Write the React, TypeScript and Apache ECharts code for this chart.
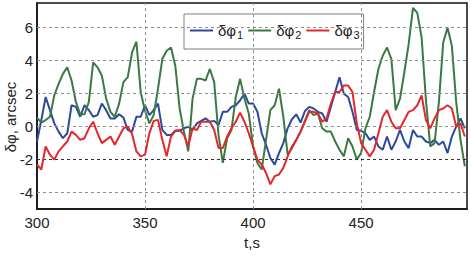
import React, { useEffect, useRef } from "react";
import * as echarts from "echarts";

const times = [
  300, 302, 304, 306, 308, 310, 312, 314, 316, 318,
  320, 322, 324, 326, 328, 330, 332, 334, 336, 338,
  340, 342, 344, 346, 348, 350, 352, 354, 356, 358,
  360, 362, 364, 366, 368, 370, 372, 374, 376, 378,
  380, 382, 384, 386, 388, 390, 392, 394, 396, 398,
  400, 402, 404, 406, 408, 410, 412, 414, 416, 418,
  420, 422, 424, 426, 428, 430, 432, 434, 436, 438,
  440, 442, 444, 446, 448, 450, 452, 454, 456, 458,
  460, 462, 464, 466, 468, 470, 472, 474, 476, 478,
  480, 482, 484, 486, 488, 490, 492, 494, 496, 498,
];

const dphi1 = [
  -0.9, 0.4, 1.8, 1.0, 0.2, -0.3, -0.7, -0.4, 1.3, 1.2,
  0.6, 1.3, 1.0, 0.6, 0.7, 1.4, 1.0, 0.5, 0.5, 0.75,
  0.55, -0.2, -0.3, 0.6, 0.6, 1.3, 0.7, 1.0, 1.4, -0.2,
  -0.5, -0.5, -0.25, -0.25, -0.1, 0.0, -0.2, 0.2, 0.35, 0.5,
  0.3, 0.35, 0.1, 0.9, 0.9, 1.2, 1.3, 1.6, 2.0, 1.4,
  1.4, 0.9, -0.4, -1.1, -1.9, -2.3, -1.6, -1.0, -0.1, 0.45,
  0.75, 0.25, 0.95, 1.2, 1.1, 0.9, 0.8, 0.3, 1.2, 2.1,
  3.0, 2.0, 1.8, 0.9, -0.2, -0.25, -0.4, -0.8, -0.6, -1.2,
  -1.4, -0.6, -1.4, -0.9, -0.2, -0.9, -1.3, -0.2, -0.6, -0.6,
  -0.9, -1.0, -0.8, -1.1, -0.9, -1.6, -0.6, 0.0, 0.5, -0.1,
];

const dphi2 = [
  0.55, 0.25, 0.4, 0.6, 1.9, 2.6, 3.2, 3.6, 2.8, 1.5,
  0.75, 0.75, 1.5, 3.9, 3.6, 3.1, 1.7, 0.9, 0.6, 1.4,
  2.7, 3.0, 4.5, 5.15, 2.1, 0.95, 0.2, 0.7, 2.3, 4.1,
  4.6, 4.8, 3.7, 1.1, -0.3, -1.5, 1.7, 2.9, 2.9, 2.8,
  3.5, 2.7, -0.5, -2.2, -0.7, -0.2, 1.8, 2.9, 1.7, 0.8,
  -1.2, -2.2, -2.6, -0.8, 1.0, 1.3, 2.3, 0.6, -1.7, -1.3,
  -0.8, -0.3, 0.35, 1.0, 0.7, 0.8, -0.1, -0.3, -0.3, -0.9,
  -1.4, -1.8, -0.7, -1.2, -2.0, -1.6, -0.1, 0.6, 2.1, 3.5,
  4.3, 4.8, 4.1, 1.0, 1.7, 3.3, 5.0, 7.2, 6.9, 5.4,
  1.6, -1.2, -1.0, 1.5, 5.1, 6.0, 4.9, 1.5, -0.8, -2.4,
];

const dphi3 = [
  -2.3, -2.6, -1.2, -1.7, -2.0, -1.5, -1.2, -0.9, -0.3, -0.5,
  -0.8, -0.7, -0.1, 0.3, -0.4, -1.0, -0.8, -0.6, -1.1, -0.6,
  -0.1, 0.0, -0.45, -1.5, -1.8, -1.7, -0.4, 0.35, 0.4, -0.8,
  -1.8, -0.6, -0.25, -0.2, -0.5, -1.2, -0.1, -0.2, 0.3, 0.3,
  0.3, -0.2, -1.3, -1.3, -0.6, -0.1, 0.3, 0.85, 0.3, -0.4,
  -1.2, -2.0, -2.3, -2.8, -3.5, -3.0, -2.9, -2.5, -1.8, -1.2,
  -0.8, -0.3, 0.3, 0.9, 0.9, 0.8, 0.3, 0.5, 1.4, 2.1,
  2.1, 2.5, 2.5, 2.1, 0.2, -1.0, -1.4, -1.8, -1.4, -0.4,
  0.6, 1.0, 0.3, -0.1, -0.1, 0.4, 0.9, 1.0, 1.3, 1.9,
  0.4, -0.1, 0.5, 1.0, 1.1, 1.3, 1.1, 0.0, 0.2, -0.6,
];

const seriesNames = ["δφ1", "δφ2", "δφ3"];
const seriesColors = ["#2c4a9c", "#3a7a42", "#e5262c"];
const yTicks = [-4, -2, 0, 2, 4, 6];
const xTicks = [300, 350, 400, 450];

export default function App() {
  const ref = useRef<HTMLDivElement>(null);

  useEffect(() => {
    document.body.style.margin = "0";
    const chart = echarts.init(ref.current as HTMLDivElement, null, { renderer: "svg" });
    const font = "'Liberation Sans', Arial, sans-serif";
    const pair = (vals: number[]) => times.map((t, i) => [t, vals[i]]);
    const gridLines: any[] = [
      ...xTicks.slice(1).map((v) => ({ xAxis: v })),
      ...yTicks.map((v) =>
        v === -2 ? { yAxis: v, lineStyle: { color: "#333" } } : { yAxis: v }
      ),
    ];
    const values = [dphi1, dphi2, dphi3];

    chart.setOption({
      animation: false,
      grid: {
        left: 37,
        right: 4,
        top: 3,
        bottom: 40,
        show: true,
        borderColor: "#111",
        borderWidth: 1.5,
        backgroundColor: "#fff",
      },
      xAxis: {
        type: "value",
        min: 300,
        max: 499,
        interval: 50,
        axisLine: { show: true, onZero: false, lineStyle: { color: "#111", width: 1.5 } },
        axisTick: { show: false },
        splitLine: { show: false },
        axisLabel: {
          fontSize: 15,
          color: "#222",
          fontFamily: font,
          margin: 6,
          showMaxLabel: false,
        },
        name: "t,s",
        nameLocation: "middle",
        nameGap: 21,
        nameTextStyle: { fontSize: 15, color: "#222", fontFamily: font, verticalAlign: "top" },
      },
      yAxis: {
        type: "value",
        min: -5,
        max: 7.5,
        axisLine: { show: true, onZero: false, lineStyle: { color: "#111", width: 1.5 } },
        axisTick: { show: false },
        splitLine: { show: false },
        axisLabel: {
          customValues: yTicks,
          fontSize: 15,
          color: "#222",
          fontFamily: font,
          margin: 4,
        },
      },
      legend: {
        data: seriesNames,
        left: 184,
        top: 14,
        orient: "horizontal",
        icon: "rect",
        itemWidth: 23,
        itemHeight: 2,
        itemGap: 5,
        padding: [9, 4, 9, 6],
        backgroundColor: "#fff",
        borderColor: "#7f7f7f",
        borderWidth: 1,
        formatter: (name: string) => `{a|δφ}{b|${name.slice(-1)}}`,
        textStyle: {
          fontFamily: font,
          fontSize: 15,
          color: "#222",
          rich: {
            a: { fontFamily: font, fontSize: 15, color: "#222" },
            b: { fontFamily: font, fontSize: 11, color: "#222", padding: [8, 0, 0, 1] },
          },
        },
      },
      graphic: [
        {
          type: "text",
          x: 10,
          y: 117,
          rotation: Math.PI / 2,
          style: {
            text: "δφ, arcsec",
            fontSize: 15,
            fontFamily: font,
            fill: "#222",
            align: "center",
            verticalAlign: "middle",
          },
        },
      ],
      series: [
        {
          type: "line",
          name: "grid",
          data: [],
          silent: true,
          z: 1,
          markLine: {
            silent: true,
            symbol: "none",
            label: { show: false },
            lineStyle: { color: "#8c8c8c", type: [3, 3], width: 1 },
            data: gridLines,
          },
        },
        ...seriesNames.map((n, i) => ({
          type: "line",
          name: n,
          data: pair(values[i]),
          showSymbol: false,
          symbol: "none",
          z: 3 + i,
          color: seriesColors[i],
          lineStyle: { color: seriesColors[i], width: 2 },
        })),
      ],
    });
    return () => chart.dispose();
  }, []);

  return <div ref={ref} style={{ width: 471, height: 255 }} />;
}
